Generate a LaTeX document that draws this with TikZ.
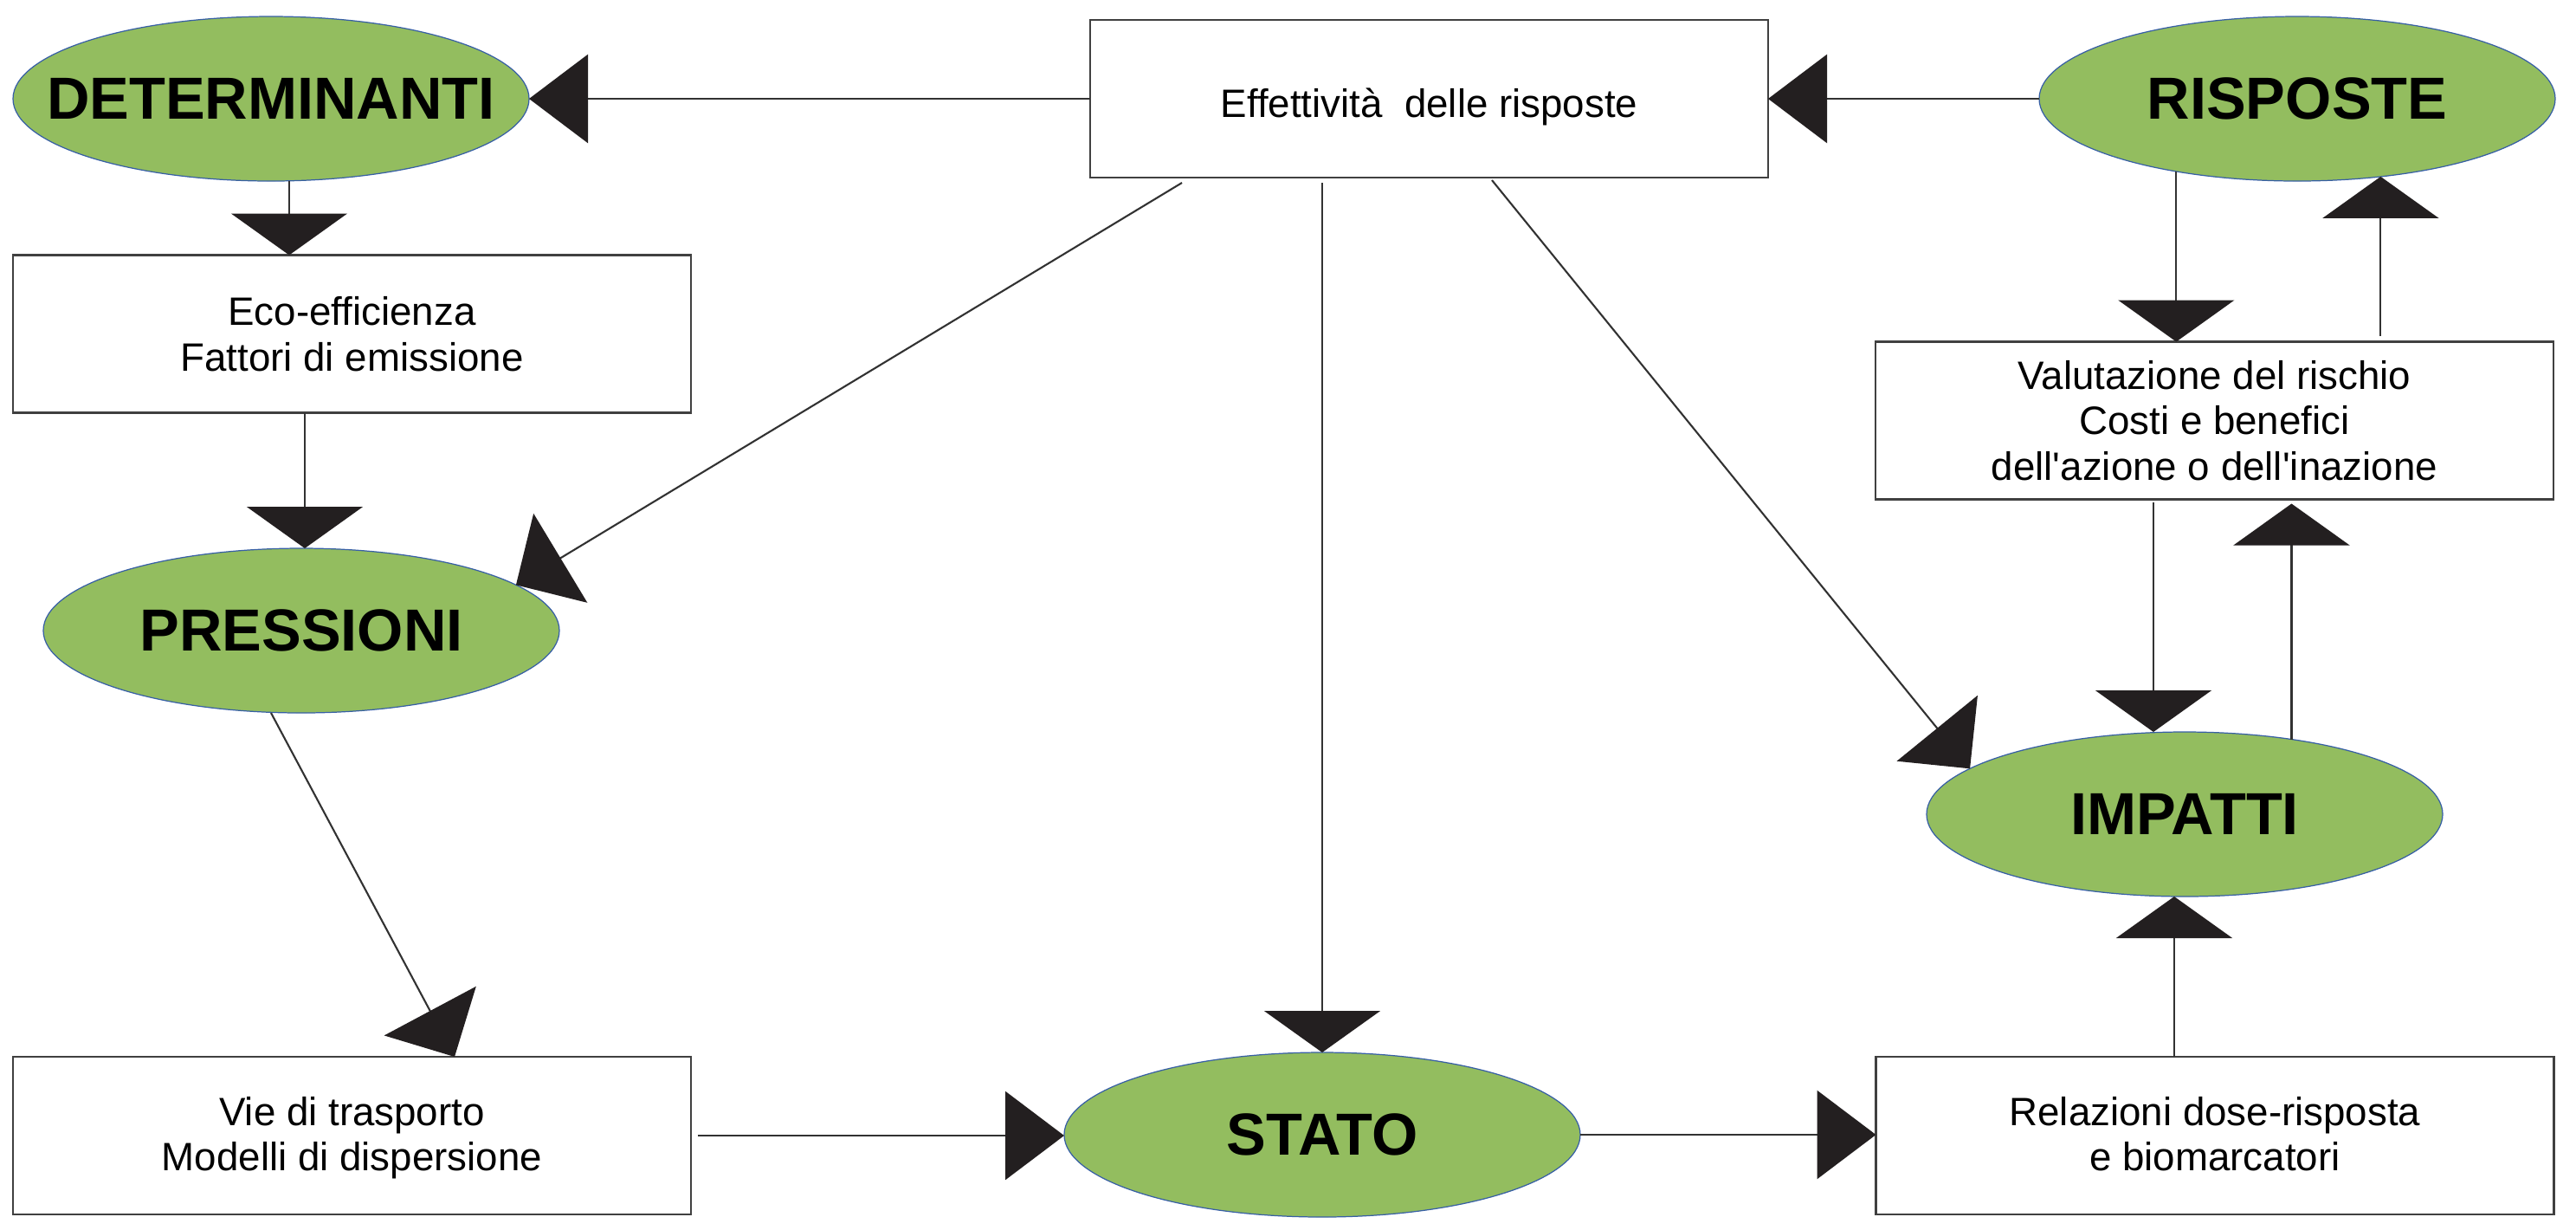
\documentclass[tikz,border=0pt]{standalone}
\usepackage{fontspec}
\setmainfont{Liberation Sans}
\usetikzlibrary{shapes.geometric,arrows.meta}

\definecolor{phasegreen}{RGB}{147,189,95}
\definecolor{phaseedge}{RGB}{55,95,165}
\definecolor{tipdark}{RGB}{35,31,32}
\definecolor{linkgray}{RGB}{50,50,50}

% keep the label out of the ellipse size computation
\newcommand{\phaselabel}[1]{\makebox[0pt]{#1}}
% move a box text down without changing the box
\newcommand{\lowered}[2]{\raisebox{-#1}[\height][\depth]{#2}}

\tikzset{
    phase/.style={ellipse, fill=phasegreen, draw=phaseedge, line width=0.35pt,
        minimum width=5.96cm, minimum height=1.90cm, inner sep=0pt, outer sep=0pt,
        font=\fontsize{19.5}{22}\selectfont\bfseries},
    infobox/.style={rectangle, draw=black!75, line width=0.8pt, fill=white,
        minimum width=7.83cm, minimum height=1.82cm, inner sep=0pt, outer sep=0pt,
        align=center, font=\fontsize{13}{15}\selectfont},
    harrow/.style={draw=linkgray, line width=0.8pt,
        -{Triangle[length=0.68cm, width=1.02cm, color=tipdark]}},
    varrow/.style={draw=linkgray, line width=0.6pt,
        -{Triangle[length=0.48cm, width=1.34cm, color=tipdark]}},
    darrow/.style={draw=linkgray, line width=0.6pt,
        -{Triangle[length=0.60cm, width=1.20cm, color=tipdark]}}
}

\begin{document}
\begin{tikzpicture}
        \useasboundingbox (0,0) rectangle (29.75,-14.19);

        % Top row: determinanti, effectiveness box, risposte
        \node[phase] (det) at (3.13,-1.14) {\phaselabel{DETERMINANTI}};
        \node[infobox] (eff) at (16.505,-1.14) {\lowered{0.09cm}{Effettività~~delle risposte}};
        \node[phase] (ris) at (26.53,-1.14) {\phaselabel{RISPOSTE}};

        % Middle of the left and right columns
        \node[infobox] (eco) at (4.065,-3.855) {Eco-efficienza\\Fattori di emissione};
        \node[phase] (pre) at (3.48,-7.28) {\phaselabel{PRESSIONI}};
        \node[infobox] (val) at (25.575,-4.855) {Valutazione del rischio\\Costi e benefici\\dell\textquotesingle azione o dell\textquotesingle inazione};
        \node[phase] (imp) at (25.23,-9.40) {\phaselabel{IMPATTI}};

        % Bottom row
        \node[infobox] (vie) at (4.065,-13.11) {\lowered{0.04cm}{\begin{tabular}{@{}c@{}}Vie di trasporto\\Modelli di dispersione\end{tabular}}};
        \node[phase] (sta) at (15.27,-13.10) {\phaselabel{STATO}};
        \node[infobox] (rel) at (25.58,-13.11) {\lowered{0.04cm}{\begin{tabular}{@{}c@{}}Relazioni dose-risposta\\e biomarcatori\end{tabular}}};

        % Top row connections
        \draw[harrow] (eff.west) -- (det.east);
        \draw[harrow] (ris.west) -- (eff.east);

        % Left column, going down
        \draw[varrow] ([xshift=0.21cm]det.south) -- ([xshift=0.21cm]det.south |- eco.north);
        \draw[varrow] ([xshift=-0.545cm]eco.south) -- ([xshift=-0.545cm]eco.south |- pre.north);
        \draw[darrow] ([xshift=-0.35cm]pre.south) -- ([xshift=1.185cm]vie.north);

        % From the effectiveness box to pressioni, stato and impatti
        \draw[darrow] ([xshift=-2.855cm,yshift=-0.06cm]eff.south) -- (pre.12);
        \draw[varrow] ([yshift=-0.06cm]eff.south -| sta.north) -- (sta.north);
        \draw[darrow] ([xshift=0.725cm,yshift=-0.03cm]eff.south) -- (imp.168);

        % Bottom row connections
        \draw[harrow] ([xshift=0.08cm]vie.east) -- (vie.east -| sta.west);
        \draw[harrow] (sta.east) -- (sta.east -| rel.west);
        \draw[varrow] ([xshift=-0.47cm]rel.north) -- ([xshift=-0.47cm]rel.north |- imp.south);

        % Right column: risposte <-> valutazione <-> impatti
        \draw[varrow] (ris.-149.5) -- (ris.-149.5 |- val.north);
        \draw[varrow] ([yshift=0.07cm]ris.-43.8 |- val.north) -- (ris.-43.8);
        \draw[varrow] ([xshift=-0.705cm,yshift=-0.03cm]val.south) -- ([xshift=-0.705cm]val.south |- imp.north);
        \draw[varrow] (imp.35.65) -- ([yshift=-0.05cm]imp.35.65 |- val.south);
    \end{tikzpicture}
\end{document}
